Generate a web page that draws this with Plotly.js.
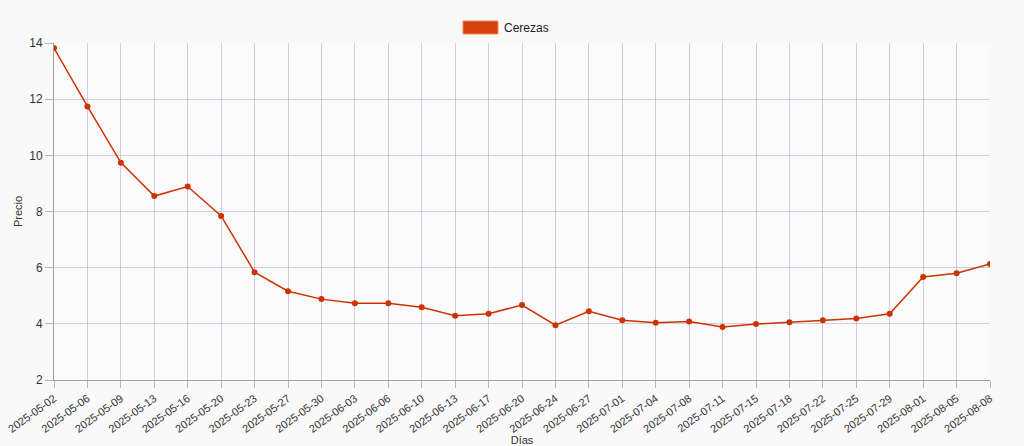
<!DOCTYPE html>
<html>
<head>
<meta charset="utf-8">
<script src="https://cdn.plot.ly/plotly-3.0.1.min.js"></script>
<style>
  html, body { margin: 0; padding: 0; background: #f9f9f9; }
  #chart { width: 1024px; height: 446px; }
</style>
</head>
<body>
<div id="chart"></div>
<script>
// Precio de cerezas por día
const dias = [
  "2025-05-02", "2025-05-06", "2025-05-09", "2025-05-13", "2025-05-16",
  "2025-05-20", "2025-05-23", "2025-05-27", "2025-05-30", "2025-06-03",
  "2025-06-06", "2025-06-10", "2025-06-13", "2025-06-17", "2025-06-20",
  "2025-06-24", "2025-06-27", "2025-07-01", "2025-07-04", "2025-07-08",
  "2025-07-11", "2025-07-15", "2025-07-18", "2025-07-22", "2025-07-25",
  "2025-07-29", "2025-08-01", "2025-08-05", "2025-08-08"
];
const precios = [
  13.82, 11.74, 9.74, 8.55, 8.89,
  7.84, 5.84, 5.16, 4.88, 4.73,
  4.73, 4.59, 4.29, 4.36, 4.67,
  3.95, 4.45, 4.13, 4.04, 4.08,
  3.89, 3.99, 4.06, 4.13, 4.19,
  4.36, 5.67, 5.80, 6.13
];
const yTicks = [2, 4, 6, 8, 10, 12, 14];

const lineColor = "#cc3300";
const gridColor = "rgba(170,170,200,0.55)";
const tickColor = "#b4b4c8";
const textColor = "#333333";

const trace = {
  x: dias,
  y: precios,
  type: "scatter",
  mode: "lines+markers",
  name: "Cerezas",
  line: { color: lineColor, width: 1.5 },
  marker: { color: lineColor, size: 6 },
  showlegend: false,
};

const layout = {
  width: 1024,
  height: 446,
  margin: { l: 54, r: 34, t: 43, b: 66 },
  paper_bgcolor: "#f9f9f9",
  plot_bgcolor: "#fbfbfb",
  font: { family: "Liberation Sans, Arial, sans-serif", size: 11, color: textColor },
  xaxis: {
    type: "category",
    range: [0, dias.length - 1],
    tickangle: -36,
    tickfont: { size: 11, color: textColor },
    showgrid: true,
    gridcolor: gridColor,
    ticks: "outside",
    ticklen: 7,
    tickwidth: 1,
    tickcolor: tickColor,
    showline: true,
    linecolor: "#a0a0a8",
    zeroline: false,
    title: { text: "Días", font: { size: 11, color: textColor }, standoff: 4 },
  },
  yaxis: {
    range: [2, 14],
    tickvals: yTicks,
    tickfont: { size: 12, color: textColor },
    showgrid: true,
    gridcolor: gridColor,
    ticks: "outside",
    ticklen: 8,
    tickwidth: 1,
    tickcolor: tickColor,
    showline: true,
    linecolor: "#a0a0a8",
    zeroline: false,
    title: { text: "Precio", font: { size: 11, color: textColor }, standoff: 4 },
  },
  // legend drawn as a box + label, like the original
  shapes: [
    {
      type: "rect", xref: "paper", yref: "paper",
      x0: (463 - 54) / 936, x1: (498 - 54) / 936,
      y0: (380 - 34) / 337, y1: (380 - 21) / 337,
      fillcolor: "#d84010",
      line: { color: "#f08a50", width: 1 },
    },
  ],
  annotations: [
    {
      xref: "paper", yref: "paper",
      x: (502 - 54) / 936, y: (380 - 27.5) / 337,
      xanchor: "left", yanchor: "middle",
      text: "Cerezas", showarrow: false,
      font: { size: 12, color: "#222222" },
    },
  ],
};

Plotly.newPlot("chart", [trace], layout, { displayModeBar: false, staticPlot: true });
</script>
</body>
</html>
